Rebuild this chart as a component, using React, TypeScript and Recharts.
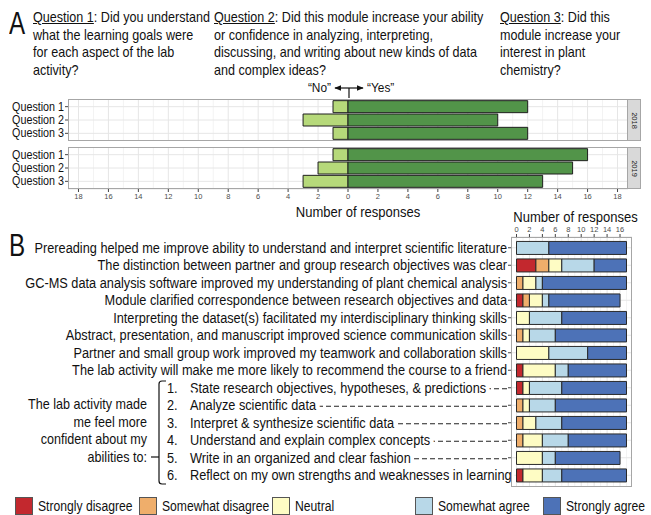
import { BarChart, Bar, XAxis, YAxis, CartesianGrid } from "recharts"

const FONT = "'Liberation Sans', Arial, sans-serif"
const SX = 0.88

// Panel A
const questions = ["Question 1", "Question 2", "Question 3"]
const no2018 = [1, 3, 1]
const yes2018 = [12, 10, 12]
const no2019 = [1, 2, 3]
const yes2019 = [16, 15, 13]
const ticksA = [-18, -16, -14, -12, -10, -8, -6, -4, -2, 0, 2, 4, 6, 8, 10, 12, 14, 16, 18]
const minorA = [-17, -15, -13, -11, -9, -7, -5, -3, -1, 1, 3, 5, 7, 9, 11, 13, 15, 17]
const DOMAIN_A: [number, number] = [-18.7, 18.7]

// Panel B
const statements = [
  "Prereading helped me improve ability to understand and interpret scientific literature",
  "The distinction between partner and group research objectives was clear",
  "GC-MS data analysis software improved my understanding of plant chemical analysis",
  "Module clarified correspondence between research objectives and data",
  "Interpreting the dataset(s) facilitated my interdisciplinary thinking skills",
  "Abstract, presentation, and manuscript improved science communication skills",
  "Partner and small group work improved my teamwork and collaboration skills",
  "The lab activity will make me more likely to recommend the course to a friend",
]
const abilities = [
  "State research objectives, hypotheses, & predictions",
  "Analyze scientific data",
  "Interpret & synthesize scientific data",
  "Understand and explain complex concepts",
  "Write in an organized and clear fashion",
  "Reflect on my own strengths and weaknesses in learning",
]
const stronglyDisagree = [0, 3, 0, 1, 0, 0, 0, 1, 1, 0, 0, 0, 0, 1]
const somewhatDisagree = [0, 2, 1, 1, 0, 1, 0, 0, 0, 1, 1, 1, 0, 0]
const neutral = [0, 2, 2, 2, 2, 1, 5, 5, 1, 1, 2, 3, 4, 3]
const somewhatAgree = [5, 5, 1, 1, 5, 4, 6, 2, 5, 4, 4, 4, 2, 3]
const stronglyAgree = [12, 5, 13, 11, 10, 11, 6, 9, 10, 11, 10, 9, 10, 10]
const ticksB = [0, 2, 4, 6, 8, 10, 12, 14, 16]
const minorB = [1, 3, 5, 7, 9, 11, 13, 15, 17]
const DOMAIN_B: [number, number] = [-0.85, 17.85]

const levels = ["Strongly disagree", "Somewhat disagree", "Neutral", "Somewhat agree", "Strongly agree"]
const COLORS = ["#c3282e", "#efae6b", "#fefcc4", "#b8d8e8", "#4d72b7"]
const GREENS = ["#b6d97a", "#529449"]

const gridGen = (values: number[], domain: [number, number]) => (props: any) => {
  const { offset } = props
  return values.map((v) => offset.left + ((v - domain[0]) / (domain[1] - domain[0])) * offset.width)
}

// condensed-looking svg text
function NText({ x, y, anchor = "start", size = 14.5, children, halo = false }: any) {
  return (
    <g transform={`translate(${x},${y}) scale(${SX},1)`}>
      <text
        x={0}
        y={0}
        textAnchor={anchor}
        fontSize={size}
        fill="#111"
        fontFamily={FONT}
        stroke={halo ? "#fff" : undefined}
        strokeWidth={halo ? 8 : undefined}
        paintOrder={halo ? "stroke" : undefined}
      >
        {children}
      </text>
    </g>
  )
}

function Narrow({ left, top, width, align = "left", size = 14.3, children }: any) {
  const origin = align === "right" ? "right top" : align === "center" ? "center top" : "left top"
  return (
    <div
      style={{
        position: "absolute",
        left,
        top,
        width,
        textAlign: align,
        fontSize: size,
        lineHeight: "17.5px",
        whiteSpace: "nowrap",
        transform: `scaleX(${SX})`,
        transformOrigin: origin,
      }}
    >
      {children}
    </div>
  )
}

function QuestionTick(props: any) {
  const { x, y, payload } = props
  return (
    <NText x={x} y={y + 4} anchor="end" size={12.2}>
      {payload.value}
    </NText>
  )
}

function YearPanel({ year, no, yes, top, showAxis }: { year: string; no: number[]; yes: number[]; top: number; showAxis: boolean }) {
  const data = questions.map((q, i) => ({ q, no: -no[i], yes: yes[i] }))
  const plotH = 42
  return (
    <>
      <div style={{ position: "absolute", left: 0, top }}>
        <BarChart
          width={651}
          height={plotH + (showAxis ? 14 : 0)}
          data={data}
          layout="vertical"
          stackOffset="sign"
          barCategoryGap="5%"
          margin={{ top: 0, right: 23, bottom: 0, left: 0 }}
        >
          <CartesianGrid horizontal={false} stroke="#f3f3f3" verticalCoordinatesGenerator={gridGen(minorA, DOMAIN_A)} />
          <CartesianGrid stroke="#e6e6e6" verticalCoordinatesGenerator={gridGen(ticksA, DOMAIN_A)} />
          <XAxis
            type="number"
            domain={DOMAIN_A}
            ticks={ticksA}
            interval={0}
            allowDataOverflow
            hide={!showAxis}
            height={14}
            tickFormatter={(v) => String(Math.abs(v))}
            tick={{ fontSize: 7.5, fill: "#4d4d4d", fontFamily: FONT }}
            tickLine={{ stroke: "#444" }}
            tickSize={3}
            axisLine={false}
          />
          <YAxis
            type="category"
            dataKey="q"
            width={68}
            interval={0}
            tick={<QuestionTick />}
            tickLine={{ stroke: "#444" }}
            tickSize={3}
            tickMargin={1}
            axisLine={false}
            padding={{ top: 1, bottom: 1 }}
          />
          <Bar dataKey="no" stackId="a" fill={GREENS[0]} stroke="#1f1f1f" strokeWidth={1} isAnimationActive={false} />
          <Bar dataKey="yes" stackId="a" fill={GREENS[1]} stroke="#1f1f1f" strokeWidth={1} isAnimationActive={false} />
        </BarChart>
      </div>
      <div style={{ position: "absolute", left: 68, top, width: 560, height: plotH, border: "1px solid #a6a6a6", boxSizing: "border-box" }} />
      <div
        style={{
          position: "absolute",
          left: 627,
          top,
          width: 14,
          height: plotH,
          background: "#d9d9d9",
          border: "1px solid #a6a6a6",
          boxSizing: "border-box",
          display: "flex",
          alignItems: "center",
          justifyContent: "center",
        }}
      >
        <span style={{ transform: "rotate(90deg)", fontSize: 7.5, color: "#1a1a1a" }}>{year}</span>
      </div>
    </>
  )
}

function StatementTick(props: any) {
  const { x, y, payload } = props
  const label = String(payload.value)
  const m = label.match(/^(\d)\. (.*)$/)
  if (!m) {
    return (
      <NText x={x} y={y + 5} anchor="end">
        {label}
      </NText>
    )
  }
  return (
    <g>
      <line x1={190} x2={x} y1={y + 1} y2={y + 1} stroke="#222" strokeDasharray="5 3" />
      <NText x={167} y={y + 5}>
        {m[1]}.
      </NText>
      <NText x={190} y={y + 5} halo>
        {m[2]}
      </NText>
    </g>
  )
}

export default function App() {
  const dataB = [...statements, ...abilities.map((a, i) => `${i + 1}. ${a}`)].map((s, i) => ({
    s,
    sd: stronglyDisagree[i],
    wd: somewhatDisagree[i],
    n: neutral[i],
    wa: somewhatAgree[i],
    sa: stronglyAgree[i],
  }))
  const keys = ["sd", "wd", "n", "wa", "sa"]
  const legendX = [15, 139, 272, 415, 543]

  return (
    <div style={{ position: "absolute", left: 0, top: 0, width: 651, height: 515, background: "#fff", fontFamily: FONT, color: "#111", overflow: "hidden" }}>
      <div style={{ position: "absolute", left: 9, top: 6, fontSize: 31, transform: "scaleX(0.78)", transformOrigin: "left top" }}>A</div>
      <Narrow left={33} top={9}>
        <u>Question 1</u>: Did you understand
        <br />
        what the learning goals were
        <br />
        for each aspect of the lab
        <br />
        activity?
      </Narrow>
      <Narrow left={214} top={9}>
        <u>Question 2</u>: Did this module increase your ability
        <br />
        or confidence in analyzing, interpreting,
        <br />
        discussing, and writing about new kinds of data
        <br />
        and complex ideas?
      </Narrow>
      <Narrow left={500} top={9}>
        <u>Question 3</u>: Did this
        <br />
        module increase your
        <br />
        interest in plant
        <br />
        chemistry?
      </Narrow>

      <Narrow left={231} width={100} align="right" top={79} size={13.5}>
        “No”
      </Narrow>
      <Narrow left={367} width={100} top={79} size={13.5}>
        “Yes”
      </Narrow>
      <svg style={{ position: "absolute", left: 0, top: 0 }} width={651} height={100}>
        <defs>
          <marker id="arr" viewBox="0 0 10 10" refX="9" refY="5" markerWidth="6" markerHeight="6" orient="auto-start-reverse">
            <path d="M0,1 L10,5 L0,9 z" fill="#111" />
          </marker>
        </defs>
        <line x1={335} x2={363} y1={88} y2={88} stroke="#111" strokeWidth={1.2} markerStart="url(#arr)" markerEnd="url(#arr)" />
        <line x1={349} x2={349} y1={88} y2={98} stroke="#111" strokeWidth={1.2} />
      </svg>

      <YearPanel year="2018" no={no2018} yes={yes2018} top={99} showAxis={false} />
      <YearPanel year="2019" no={no2019} yes={yes2019} top={147} showAxis={true} />
      <Narrow left={258} width={200} align="center" top={204} size={14.8}>
        Number of responses
      </Narrow>

      <div style={{ position: "absolute", left: 9, top: 228, fontSize: 31, transform: "scaleX(0.78)", transformOrigin: "left top" }}>B</div>
      <Narrow left={505} width={138} align="center" top={209} size={14.8}>
        Number of responses
      </Narrow>

      <div style={{ position: "absolute", left: 0, top: 224 }}>
        <BarChart
          width={651}
          height={263}
          data={dataB}
          layout="vertical"
          barCategoryGap="14%"
          margin={{ top: 0, right: 19, bottom: 0, left: 0 }}
        >
          <CartesianGrid horizontal={false} stroke="#f3f3f3" verticalCoordinatesGenerator={gridGen(minorB, DOMAIN_B)} />
          <CartesianGrid stroke="#e6e6e6" verticalCoordinatesGenerator={gridGen(ticksB, DOMAIN_B)} />
          <XAxis
            type="number"
            orientation="top"
            domain={DOMAIN_B}
            ticks={ticksB}
            interval={0}
            allowDataOverflow
            height={13}
            tick={{ fontSize: 7.5, fill: "#4d4d4d", fontFamily: FONT }}
            tickLine={{ stroke: "#444" }}
            tickSize={3}
            axisLine={false}
          />
          <YAxis
            type="category"
            dataKey="s"
            width={511}
            tick={<StatementTick />}
            tickLine={{ stroke: "#444" }}
            tickSize={3}
            tickMargin={1}
            axisLine={false}
            interval={0}
            padding={{ top: 2, bottom: 3 }}
          />
          {keys.map((k, i) => (
            <Bar key={k} dataKey={k} stackId="b" fill={COLORS[i]} stroke="#2a2a2a" strokeWidth={1} isAnimationActive={false} />
          ))}
        </BarChart>
      </div>
      <div style={{ position: "absolute", left: 511, top: 237, width: 121, height: 250, border: "1px solid #a6a6a6", boxSizing: "border-box" }} />

      <svg style={{ position: "absolute", left: 0, top: 370 }} width={200} height={130}>
        <path d="M166,11 L162,11 Q159,11 159,14 L159,111 Q159,114 162,114 L166,114" fill="none" stroke="#111" strokeWidth={1.2} />
        <line x1={151} x2={159} y1={87} y2={87} stroke="#111" strokeWidth={1.2} />
      </svg>
      <Narrow left={0} width={147} align="right" top={396}>
        The lab activity made
        <br />
        me feel more
        <br />
        confident about my
        <br />
        abilities to:
      </Narrow>

      {levels.map((l, i) => (
        <div key={l} style={{ position: "absolute", left: legendX[i], top: 497, display: "flex", alignItems: "center" }}>
          <div style={{ width: 18, height: 18, flex: "none", background: COLORS[i], border: "1px solid #555", boxSizing: "border-box", marginRight: 5 }} />
          <span style={{ fontSize: 13.8, whiteSpace: "nowrap", transform: `scaleX(${SX})`, transformOrigin: "left center" }}>{l}</span>
        </div>
      ))}
    </div>
  )
}
